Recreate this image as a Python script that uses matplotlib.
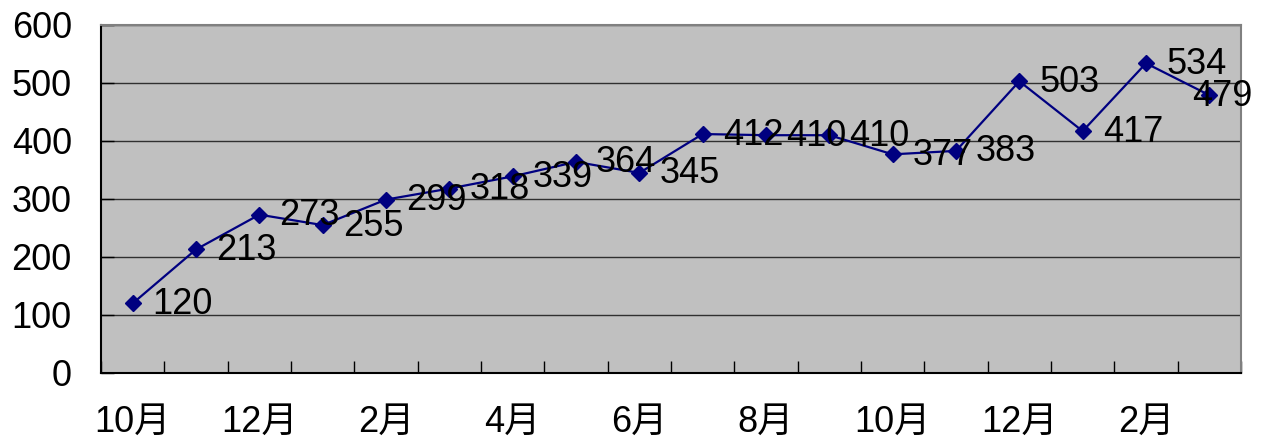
import matplotlib
matplotlib.use("Agg")
import matplotlib.pyplot as plt
import numpy as np

plt.rcParams['font.family'] = ['Liberation Sans', 'Noto Sans CJK JP', 'DejaVu Sans']

months = ["10月", "11月", "12月", "1月", "2月", "3月", "4月", "5月", "6月",
          "7月", "8月", "9月", "10月", "11月", "12月", "1月", "2月", "3月"]
values = [120, 213, 273, 255, 299, 318, 339, 364, 345,
          412, 410, 410, 377, 383, 503, 417, 534, 479]
y_ticks = [0, 100, 200, 300, 400, 500, 600]

fig = plt.figure(figsize=(12.65, 4.45), dpi=100)
ax = fig.add_axes([101 / 1265, 72 / 445, 1140 / 1265, 348 / 445])
ax.set_facecolor('#c0c0c0')

x = np.arange(len(values))
ax.plot(x, values, color='#000080', lw=1.6, marker='D', markersize=8,
        markerfacecolor='#000080', markeredgecolor='#000080', zorder=3)

# value labels to the right of each point, last one pulled back inside
for i, v in enumerate(values):
    dx = 20 if i < len(values) - 1 else -17
    ax.annotate(str(v), (i, v), xytext=(dx, -1), textcoords='offset pixels',
                ha='left', va='center', fontsize=26, color='black', zorder=4)

ax.set_xlim(-0.5, len(values) - 0.5)
ax.set_ylim(0, 600)

ax.set_yticks(y_ticks)
ax.set_yticklabels([str(t) for t in y_ticks])
ax.yaxis.grid(True, color='#303030', lw=1)
ax.set_axisbelow(True)

# ticks at category boundaries, labels on every other month
ax.set_xticks(np.arange(len(values) + 1) - 0.5)
ax.set_xticklabels([])
ax.set_xticks(x[::2], minor=True)
ax.set_xticklabels(months[::2], minor=True)
ax.tick_params(axis='x', which='major', direction='in', length=9, width=1, color='black')
ax.tick_params(axis='x', which='minor', length=0, pad=23, labelsize=26)
ax.tick_params(axis='y', direction='in', length=9, width=1, pad=21, labelsize=26)

for s in ['left', 'bottom']:
    ax.spines[s].set_color('black')
    ax.spines[s].set_linewidth(1.5)
for s in ['top', 'right']:
    ax.spines[s].set_color('#808080')
    ax.spines[s].set_linewidth(1.5)

fig.savefig('out.png', dpi=100)
